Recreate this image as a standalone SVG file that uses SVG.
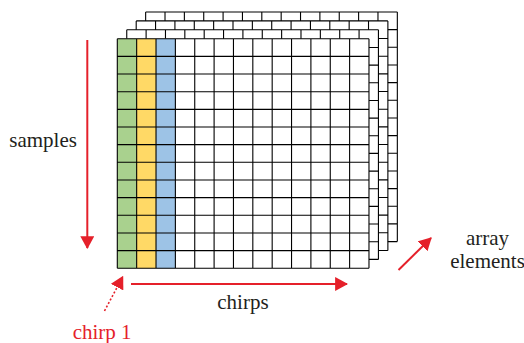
<svg xmlns="http://www.w3.org/2000/svg" width="524" height="343" viewBox="0 0 524 343">
  <style>
    .bg { fill: #ffffff; }
    .gl { fill: none; stroke: #000000; stroke-width: 1.1; }
    .lbl { font-size: 21px; fill: #231f20; }
    .red { fill: #e5202a; }
    .arr { fill: none; stroke: #e5202a; stroke-width: 2; }
    .dot { fill: none; stroke: #e5202a; stroke-width: 1.6; stroke-dasharray: 2 2; }
  </style>
  <defs>
    <marker id="head" markerUnits="userSpaceOnUse" markerWidth="13" markerHeight="14" viewBox="0 0 12 13" refX="11" refY="6.5" orient="auto">
      <path d="M0,0 L12,6.5 L0,13 Z" fill="#e5202a"/>
    </marker>
    <rect id="cellbg" class="bg" x="0" y="0" width="251.68" height="229.58"/>
    <path id="gridlines" class="gl" d="M0,0V229.58 M19.36,0V229.58 M38.72,0V229.58 M58.08,0V229.58 M77.44,0V229.58 M96.8,0V229.58 M116.16,0V229.58 M135.52,0V229.58 M154.88,0V229.58 M174.24,0V229.58 M193.6,0V229.58 M212.96,0V229.58 M232.32,0V229.58 M251.68,0V229.58 M0,0H251.68 M0,17.66H251.68 M0,35.32H251.68 M0,52.98H251.68 M0,70.64H251.68 M0,88.3H251.68 M0,105.96H251.68 M0,123.62H251.68 M0,141.28H251.68 M0,158.94H251.68 M0,176.6H251.68 M0,194.26H251.68 M0,211.92H251.68 M0,229.58H251.68"/>
  </defs>

  <g id="layer4" transform="translate(145.65,12)">
    <use href="#cellbg"/>
    <use href="#gridlines"/>
  </g>
  <g id="layer3" transform="translate(136.2,20.9)">
    <use href="#cellbg"/>
    <use href="#gridlines"/>
  </g>
  <g id="layer2" transform="translate(126.75,29.8)">
    <use href="#cellbg"/>
    <use href="#gridlines"/>
  </g>
  <g id="layer1" transform="translate(117.3,38.7)">
    <use href="#cellbg"/>
    <rect x="0" y="0" width="19.36" height="229.58" fill="#a9d18e"/>
    <rect x="19.36" y="0" width="19.36" height="229.58" fill="#ffd966"/>
    <rect x="38.72" y="0" width="19.36" height="229.58" fill="#9dc3e6"/>
    <use href="#gridlines"/>
  </g>

  <g id="connectors">
    <line class="arr" x1="87.3" y1="40" x2="87.3" y2="248" marker-end="url(#head)"/>
    <line class="arr" x1="131" y1="284" x2="347" y2="284" marker-end="url(#head)"/>
    <line class="arr" x1="398.5" y1="270" x2="431" y2="238" marker-end="url(#head)"/>
    <line class="dot" x1="104.5" y1="311" x2="122.7" y2="276.7" marker-end="url(#head)"/>
  </g>

  <g id="labels" font-family="'Liberation Serif', 'Times New Roman', 'DejaVu Serif', serif">
    <text class="lbl" x="9.3" y="146.7">samples</text>
    <text class="lbl" x="217.3" y="309">chirps</text>
    <text class="lbl" x="487.5" y="245" text-anchor="middle">array</text>
    <text class="lbl" x="487.5" y="268.3" text-anchor="middle">elements</text>
    <text class="lbl red" x="72.7" y="339">chirp 1</text>
  </g>
</svg>
